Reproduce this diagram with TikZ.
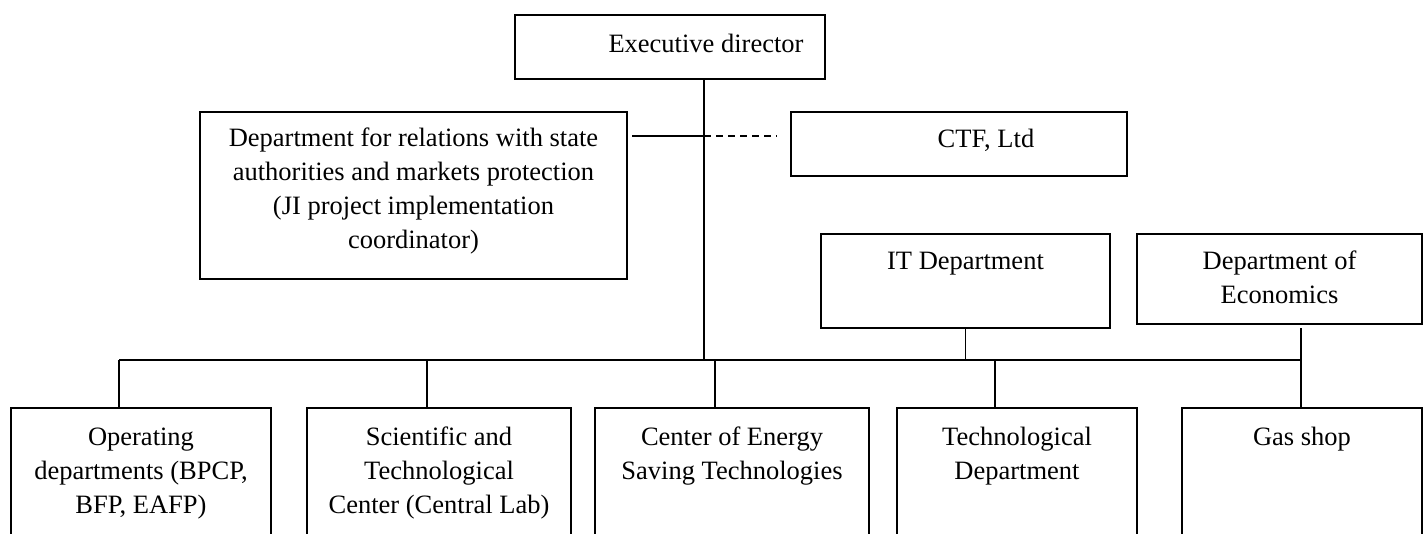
\documentclass[tikz,border=0pt]{standalone}
\usepackage{fontspec}
\setmainfont{Liberation Serif}
% centred caption whose reference point is the baseline of its first line
\newcommand{\boxtext}[1]{\parbox[t]{440pt}{\centering\fontsize{26.5}{34}\selectfont #1}}
\begin{document}
\begin{tikzpicture}[x=1pt,y=-1pt,
  orgbox/.style={draw=black, line width=1.9pt, inner sep=0pt, outer sep=0pt, anchor=north west},
  caption/.style={inner sep=0pt, outer sep=0pt, anchor=base},
  link/.style={draw=black, line width=1.8pt},
  weaklink/.style={link, dash pattern=on 7pt off 5pt}]
\fill[white] (0,0) rectangle (1424,533);
\useasboundingbox (0,0) rectangle (1424,533);
\clip (0,0) rectangle (1424,533);

% management level
\node[orgbox, minimum width=310pt, minimum height=64pt]  (exec) at (515,15)  {};
\node[orgbox, minimum width=427pt, minimum height=167pt] (dept) at (200,112) {};
\node[orgbox, minimum width=336pt, minimum height=64pt]  (ctf)  at (791,112) {};
\node[orgbox, minimum width=289pt, minimum height=94pt]  (it)   at (821,234) {};
\node[orgbox, minimum width=285pt, minimum height=90pt]  (econ) at (1137,234) {};

% operating units (boxes run past the lower edge)
\node[orgbox, minimum width=260pt, minimum height=160pt] (op)   at (11,408)   {};
\node[orgbox, minimum width=264pt, minimum height=160pt] (sci)  at (307,408)  {};
\node[orgbox, minimum width=274pt, minimum height=160pt] (cest) at (595,408)  {};
\node[orgbox, minimum width=240pt, minimum height=160pt] (tech) at (897,408)  {};
\node[orgbox, minimum width=240pt, minimum height=160pt] (gas)  at (1182,408) {};

% captions
\node[caption] (execT) at (706,52)    {\boxtext{Executive director}};
\node[caption] (deptT) at (413.5,146.5) {\boxtext{Department for relations with state\\authorities and markets protection\\(JI project implementation\\coordinator)}};
\node[caption] (ctfT)  at (986,147)   {\boxtext{CTF, Ltd}};
\node[caption] (itT)   at (965.5,269) {\boxtext{IT Department}};
\node[caption] (econT) at (1279.5,269) {\boxtext{Department of\\Economics}};
\node[caption] (opT)   at (141,445)   {\boxtext{Operating\\departments (BPCP,\\BFP, EAFP)}};
\node[caption] (sciT)  at (439,445)   {\boxtext{Scientific and\\Technological\\Center (Central Lab)}};
\node[caption] (cestT) at (732,445)   {\boxtext{Center of Energy\\Saving Technologies}};
\node[caption] (techT) at (1017,445)  {\boxtext{Technological\\Department}};
\node[caption] (gasT)  at (1302,445)  {\boxtext{Gas shop}};

% bus and junction points
\coordinate (hub)  at (704,360);
\coordinate (busL) at (119,360);
\coordinate (busR) at (1301,360);
\coordinate (sciJ) at (427,360);
\coordinate (cestJ) at (715,360);
\coordinate (techJ) at (995,360);
\coordinate (mid)  at (704,136);

\draw[link] (exec.south -| hub) -- (hub);
\draw[link] (busL) -- (busR);
\draw[link] (busL) -- (busL |- op.north);
\draw[link] (sciJ) -- (sciJ |- sci.north);
\draw[link] (cestJ) -- (cestJ |- cest.north);
\draw[link] (techJ) -- (techJ |- tech.north);
\draw[link] (it.south) -- (it.south |- busR);
\draw[link] ([yshift=-4pt]econ.south -| busR) -- (busR |- gas.north);

% relation to the external company
\draw[link] ([xshift=5pt]dept.east |- mid) -- (mid);
\draw[weaklink] (mid) -- ([xshift=-14pt]ctf.west |- mid);
\end{tikzpicture}
\end{document}
